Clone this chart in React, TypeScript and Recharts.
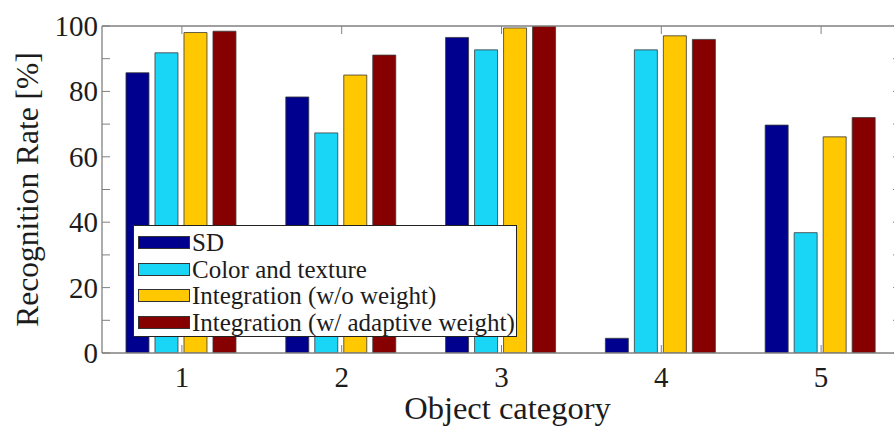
import React from 'react';
import { BarChart, Bar, XAxis, YAxis, Legend } from 'recharts';

const categories = ['1', '2', '3', '4', '5'];
const sdRates = [85.7, 78.3, 96.5, 4.5, 69.7];
const colorTextureRates = [91.8, 67.3, 92.7, 92.7, 36.8];
const integrationNoWeightRates = [98.0, 85.0, 99.4, 97.0, 66.1];
const integrationAdaptiveRates = [98.4, 91.1, 100, 95.9, 72.0];

const yTicks = [0, 10, 20, 30, 40, 50, 60, 70, 80, 90, 100];
const yTickLabels = [0, 20, 40, 60, 80, 100];
const yMax = 100;

const seriesKeys = ['sd', 'colorTexture', 'integrationNoWeight', 'integrationAdaptive'];
const seriesNames = ['SD', 'Color and texture', 'Integration (w/o weight)', 'Integration (w/ adaptive weight)'];
const seriesColors = ['#00008F', '#1AD6F6', '#FFC800', '#870000'];

const data = categories.map((c, i) => ({
  category: c,
  sd: sdRates[i],
  colorTexture: colorTextureRates[i],
  integrationNoWeight: integrationNoWeightRates[i],
  integrationAdaptive: integrationAdaptiveRates[i],
}));

const FONT = '"Liberation Serif", "Times New Roman", Times, serif';
const TICK_LEN = 8;
const AXIS_COLOR = '#808080';
const AXIS_WIDTH = 1.3;
const TEXT_COLOR = '#1c1c1c';

const LeftTick = (props: any) => {
  const { x, y, payload } = props;
  const show = yTickLabels.includes(payload.value);
  return (
    <g>
      <line x1={x} x2={x + TICK_LEN} y1={y} y2={y} stroke={AXIS_COLOR} strokeWidth={1} />
      {show && (
        <text x={x - 4} y={y + 10} textAnchor="end" fontSize={29} fontFamily={FONT} fill={TEXT_COLOR}>
          {payload.value}
        </text>
      )}
    </g>
  );
};

const RightTick = (props: any) => {
  const { x, y } = props;
  return <line x1={x - TICK_LEN} x2={x} y1={y} y2={y} stroke={AXIS_COLOR} strokeWidth={1} />;
};

const BottomTick = (props: any) => {
  const { x, y, payload } = props;
  return (
    <g>
      <line x1={x} x2={x} y1={y - TICK_LEN} y2={y} stroke={AXIS_COLOR} strokeWidth={1} />
      <text x={x} y={y + 34} textAnchor="middle" fontSize={29} fontFamily={FONT} fill={TEXT_COLOR}>
        {payload.value}
      </text>
    </g>
  );
};

const TopTick = (props: any) => {
  const { x, y } = props;
  return <line x1={x} x2={x} y1={y} y2={y + TICK_LEN} stroke={AXIS_COLOR} strokeWidth={1} />;
};

const YLabel = (props: any) => {
  const vb = props.viewBox || {};
  const cx = (vb.x ?? 0) + 27;
  const cy = (vb.y ?? 26) + (vb.height ?? 327) / 2;
  return (
    <text
      x={cx}
      y={cy}
      transform={`rotate(-90 ${cx} ${cy})`}
      textAnchor="middle"
      dominantBaseline="central"
      fontSize={31.5}
      fontFamily={FONT}
      fill={TEXT_COLOR}
    >
      Recognition Rate [%]
    </text>
  );
};

const XLabel = (props: any) => {
  const vb = props.viewBox || {};
  const cx = (vb.x ?? 102) + (vb.width ?? 799) / 2 + 6;
  const by = (vb.y ?? 353) + 66;
  return (
    <text x={cx} y={by} textAnchor="middle" fontSize={32.5} fontFamily={FONT} fill={TEXT_COLOR}>
      Object category
    </text>
  );
};

const LegendBox = () => (
  <div
    style={{
      width: 384,
      height: 112,
      boxSizing: 'border-box',
      border: '1px solid #222',
      background: '#fff',
      paddingTop: 3,
      fontFamily: FONT,
    }}
  >
    {seriesNames.map((name, i) => (
      <div key={name} style={{ display: 'flex', alignItems: 'center', height: 26.7 }}>
        <div
          style={{
            width: 52,
            height: 13,
            background: seriesColors[i],
            border: '1px solid #333',
            boxSizing: 'border-box',
            marginLeft: 4,
            flex: 'none',
          }}
        />
        <span style={{ marginLeft: 2, fontSize: 25, lineHeight: '25px', color: TEXT_COLOR, whiteSpace: 'nowrap' }}>
          {name}
        </span>
      </div>
    ))}
  </div>
);

export default function App() {
  return (
    <div style={{ position: 'absolute', left: 0, top: 0, width: 894, height: 426, overflow: 'hidden', background: '#fff' }}>
      <BarChart
        width={910}
        height={426}
        data={data}
        margin={{ top: 18, right: 0, bottom: 0, left: 0 }}
        barCategoryGap="15%"
        barGap={6}
      >
        <XAxis
          dataKey="category"
          xAxisId="bottom"
          orientation="bottom"
          height={73}
          tickSize={0}
          tickMargin={0}
          tickLine={false}
          axisLine={{ stroke: AXIS_COLOR, strokeWidth: AXIS_WIDTH }}
          tick={<BottomTick />}
          interval={0}
          label={{ content: XLabel }}
        />
        <XAxis
          dataKey="category"
          xAxisId="top"
          orientation="top"
          height={8}
          tickSize={0}
          tickMargin={0}
          tickLine={false}
          axisLine={{ stroke: AXIS_COLOR, strokeWidth: AXIS_WIDTH }}
          tick={<TopTick />}
          interval={0}
        />
        <YAxis
          yAxisId="left"
          orientation="left"
          width={102}
          domain={[0, yMax]}
          ticks={yTicks}
          interval={0}
          allowDataOverflow
          tickSize={0}
          tickMargin={0}
          tickLine={false}
          axisLine={{ stroke: AXIS_COLOR, strokeWidth: AXIS_WIDTH }}
          tick={<LeftTick />}
          label={{ content: YLabel }}
        />
        <YAxis
          yAxisId="right"
          orientation="right"
          width={9}
          domain={[0, yMax]}
          ticks={yTicks}
          interval={0}
          allowDataOverflow
          tickSize={0}
          tickMargin={0}
          tickLine={false}
          axisLine={{ stroke: AXIS_COLOR, strokeWidth: AXIS_WIDTH }}
          tick={<RightTick />}
        />
        {seriesKeys.map((k, i) => (
          <Bar
            key={k}
            dataKey={k}
            name={seriesNames[i]}
            xAxisId="bottom"
            yAxisId="left"
            fill={seriesColors[i]}
            stroke="#3a3a3a"
            strokeWidth={0.8}
            isAnimationActive={false}
          />
        ))}
        <Legend
          layout="vertical"
          align="center"
          verticalAlign="middle"
          width={384}
          content={<LegendBox />}
          wrapperStyle={{ position: 'absolute', left: 133, top: 225, width: 384, height: 112, margin: 0, padding: 0 }}
        />
      </BarChart>
    </div>
  );
}
